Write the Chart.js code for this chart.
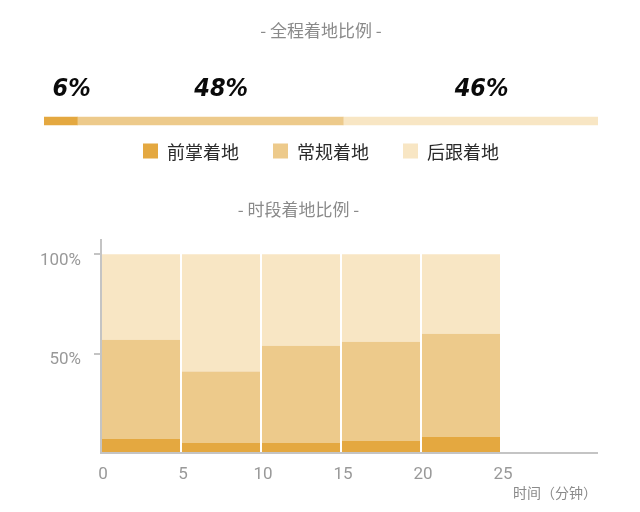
<!DOCTYPE html>
<html lang="zh">
<head>
    <title>着地比例</title>
    <script src="https://cdn.jsdelivr.net/npm/chart.js@4.4.1/dist/chart.umd.min.js"></script>
    <style>
        body { margin: 0; background: #fff; }
        #wrap { width: 640px; height: 512px; }
        #topBox { position: relative; width: 640px; height: 185px; }
        #bottomBox { position: relative; width: 640px; height: 327px; }
    </style>
</head>
<body>
<div id="wrap">
    <div id="topBox"><canvas id="overallChart"></canvas></div>
    <div id="bottomBox"><canvas id="periodChart"></canvas></div>
</div>

<script>
    // 全程
    const footTypes = ['前掌着地', '常规着地', '后跟着地'];
    const overallPct = [6, 48, 46];
    const footColors = ['#e4a840', '#edca8b', '#f8e6c4'];

    // 时段 (每段5分钟)
    const periodStarts = [0, 5, 10, 15, 20];
    const periodLength = 5;
    const forePct = [7, 5, 5, 6, 8];
    const normalPct = [50, 36, 49, 50, 52];
    const heelPct = [43, 59, 46, 44, 40];
    const yTicks = [50, 100];

    const cjk = '"Noto Sans CJK SC", "Noto Sans", sans-serif';

    // percentage numbers above the overall bar
    const pctLabels = {
        id: 'pctLabels',
        afterDatasetsDraw(chart) {
            const ctx = chart.ctx;
            ctx.save();
            ctx.font = 'italic bold 25px "DejaVu Sans Condensed", "DejaVu Sans", sans-serif';
            ctx.fillStyle = '#0a0a0a';
            ctx.textAlign = 'center';
            ctx.textBaseline = 'middle';
            chart.data.datasets.forEach((ds, i) => {
                const bar = chart.getDatasetMeta(i).data[0];
                const cx = (bar.x + bar.base) / 2 + 11;
                ctx.fillText(ds.data[0] + '%', cx, bar.y - 32);
            });
            ctx.restore();
        }
    };

    // legend row under the bar, spaced like the original
    const rowLegend = {
        id: 'rowLegend',
        afterDraw(chart) {
            const ctx = chart.ctx;
            const box = 15, gap = 9, spacing = 34;
            const y = chart.chartArea.bottom + 18;
            ctx.save();
            ctx.font = '18px ' + cjk;
            ctx.textBaseline = 'middle';
            ctx.textAlign = 'left';
            const items = chart.data.datasets.map(ds => ({
                text: ds.label, color: ds.backgroundColor,
                w: box + gap + ctx.measureText(ds.label).width
            }));
            const total = items.reduce((a, it) => a + it.w, 0) + spacing * (items.length - 1);
            let x = (chart.width - total) / 2 + 1;
            items.forEach(it => {
                ctx.fillStyle = it.color;
                ctx.fillRect(x, y - box / 2, box, box);
                ctx.fillStyle = '#2a2a2a';
                ctx.fillText(it.text, x + box + gap, y + 1);
                x += it.w + spacing;
            });
            ctx.restore();
        }
    };

    new Chart('overallChart', {
        type: 'bar',
        data: {
            labels: ['全程'],
            datasets: footTypes.map((name, i) => ({
                label: name,
                data: [overallPct[i]],
                backgroundColor: footColors[i],
                barThickness: 8
            }))
        },
        options: {
            indexAxis: 'y',
            responsive: true,
            maintainAspectRatio: false,
            animation: false,
            layout: { padding: { left: 44, right: 42, bottom: 52 } },
            scales: {
                x: { display: false, stacked: true, min: 0, max: 100 },
                y: { display: false, stacked: true }
            },
            plugins: {
                tooltip: { enabled: false },
                legend: { display: false },
                title: {
                    display: true,
                    text: '- 全程着地比例 -',
                    color: '#8a8a8a',
                    font: { family: cjk, size: 17, weight: 'normal' },
                    padding: { top: 20, bottom: 68.6 }
                }
            }
        },
        plugins: [pctLabels, rowLegend]
    });

    const periodSets = [forePct, normalPct, heelPct];

    new Chart('periodChart', {
        type: 'bar',
        data: {
            datasets: periodSets.map((vals, i) => ({
                label: footTypes[i],
                data: periodStarts.map((s, j) => ({ x: s + periodLength / 2, y: vals[j] })),
                backgroundColor: footColors[i],
                borderWidth: 0,
                barPercentage: 1,
                categoryPercentage: 0.975
            }))
        },
        options: {
            responsive: true,
            maintainAspectRatio: false,
            animation: false,
            layout: { padding: { left: 0, right: 43, top: 0, bottom: 0 } },
            scales: {
                x: {
                    type: 'linear',
                    stacked: true,
                    offset: false,
                    min: 0,
                    max: 31,
                    afterFit: s => { s.height = 59; },
                    grid: { display: false, offset: false },
                    border: { display: true, color: '#c4c4c4', width: 2 },
                    ticks: {
                        stepSize: 5,
                        includeBounds: false,
                        padding: 4,
                        labelOffset: 2,
                        color: '#999',
                        font: { family: 'Roboto', size: 17 },
                        callback: v => (v <= 25 ? v : '')
                    },
                    title: {
                        display: true,
                        text: '时间（分钟）',
                        align: 'end',
                        color: '#8a8a8a',
                        font: { family: cjk, size: 14 },
                        padding: { top: 0, bottom: 11 }
                    }
                },
                y: {
                    stacked: true,
                    min: 0,
                    max: 107,
                    afterFit: s => { s.width = 101; },
                    afterBuildTicks: s => { s.ticks = [0].concat(yTicks).map(v => ({ value: v })); },
                    grid: {
                        drawOnChartArea: false,
                        tickLength: 7,
                        lineWidth: 2,
                        color: c => (c.tick && c.tick.value === 0 ? 'rgba(0,0,0,0)' : '#c4c4c4')
                    },
                    border: { display: true, color: '#c4c4c4', width: 2 },
                    ticks: {
                        padding: 13,
                        labelOffset: 6,
                        color: '#999',
                        font: { family: 'Roboto', size: 17 },
                        callback: v => (v === 0 ? '' : v + '%')
                    }
                }
            },
            plugins: {
                tooltip: { enabled: false },
                legend: { display: false },
                title: {
                    display: true,
                    text: '- 时段着地比例 -',
                    color: '#8a8a8a',
                    font: { family: cjk, size: 17, weight: 'normal' },
                    padding: { top: 14, bottom: 21 }
                }
            }
        }
    });
</script>
</body>
</html>
